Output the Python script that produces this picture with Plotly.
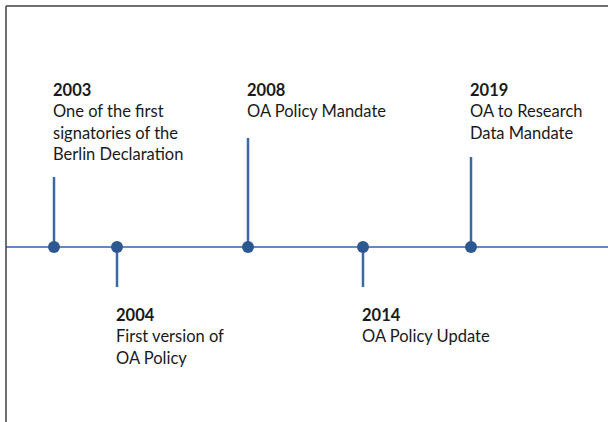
import plotly.graph_objects as go

# ---- data ----
years = ["2003", "2004", "2008", "2014", "2019"]
descriptions = [
    "One of the first<br>signatories of the<br>Berlin Declaration",
    "First version of<br>OA Policy",
    "OA Policy Mandate",
    "OA Policy Update",
    "OA to Research<br>Data Mandate",
]
# position of each event along the timeline axis
event_pos = [54, 117, 248, 363, 471]
# stem length (positive = above line, negative = below)
stem_len = [70, -40, 109, -40, 90]

W, H = 608, 422
LINE_Y = 247
FONT = "Lato, Carlito, Calibri, sans-serif"

fig = go.Figure()

# stems
sx, sy = [], []
for p, s in zip(event_pos, stem_len):
    sx += [p, p, None]
    sy += [LINE_Y, LINE_Y - s, None]
fig.add_trace(go.Scatter(x=sx, y=sy, mode="lines",
                         line=dict(color="#3a68a3", width=2.5),
                         hoverinfo="skip", showlegend=False))

# markers
fig.add_trace(go.Scatter(x=event_pos, y=[LINE_Y] * len(event_pos), mode="markers",
                         marker=dict(color="#2b5890", size=12),
                         text=years, hoverinfo="text", showlegend=False))

# labels
for p, s, yr, d in zip(event_pos, stem_len, years, descriptions):
    txt = f"<b>{yr}</b><br>{d}"
    if s > 0:
        top = 78
    else:
        top = LINE_Y - s + 16
    fig.add_annotation(x=p - 3, y=top, xref="x", yref="y", text=txt,
                       showarrow=False, xanchor="left", yanchor="top", align="left",
                       font=dict(family=FONT, size=16.5, color="#1a1a1a"))

shapes = [
    # timeline
    dict(type="line", xref="x", yref="y", x0=6, x1=W, y0=LINE_Y, y1=LINE_Y,
         line=dict(color="#5b8cc8", width=2), layer="below"),
    # frame
    dict(type="line", xref="x", yref="y", x0=6, x1=W, y0=6, y1=6,
         line=dict(color="#404040", width=1.5)),
    dict(type="line", xref="x", yref="y", x0=6, x1=6, y0=6, y1=H,
         line=dict(color="#404040", width=1.5)),
]

fig.update_layout(
    width=W, height=H,
    margin=dict(l=0, r=0, t=0, b=0),
    paper_bgcolor="white", plot_bgcolor="white",
    xaxis=dict(range=[0, W], visible=False, fixedrange=True),
    yaxis=dict(range=[H, 0], visible=False, fixedrange=True),
    shapes=shapes,
)

fig.write_html("out.html", config={"displayModeBar": False})

# remove the default page margin so the figure fills the window exactly
with open("out.html", encoding="utf-8") as f:
    html = f.read()
html = html.replace("<head>", "<head><style>html,body{margin:0;padding:0;overflow:hidden;}</style>", 1)
with open("out.html", "w", encoding="utf-8") as f:
    f.write(html)
